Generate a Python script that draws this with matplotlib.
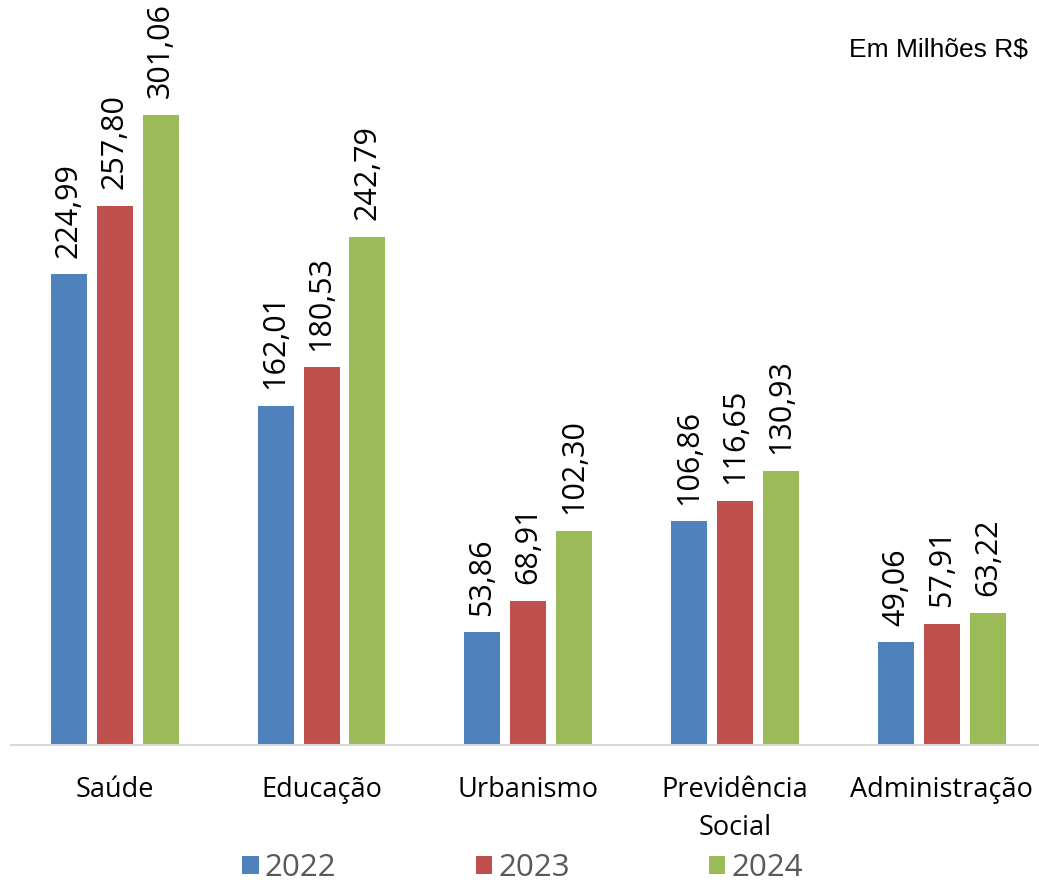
import numpy as np
import matplotlib
matplotlib.use("Agg")
import matplotlib.pyplot as plt

categories = ["Saúde", "Educação", "Urbanismo", "Previdência\nSocial", "Administração"]
years = ["2022", "2023", "2024"]
v2022 = [224.99, 162.01, 53.86, 106.86, 49.06]
v2023 = [257.80, 180.53, 68.91, 116.65, 57.91]
v2024 = [301.06, 242.79, 102.30, 130.93, 63.22]
colors = ["#4F81BD", "#C0504D", "#9BBB59"]

plt.rcParams['font.family'] = ['Open Sans', 'DejaVu Sans']

fig = plt.figure(figsize=(10.39, 8.85), dpi=100)
ax = fig.add_axes([0.011, 0.158, 0.995, 0.842])

x = np.arange(len(categories))
width = 0.174
step = 0.222
series = [v2022, v2023, v2024]
for i, (vals, c, lab) in enumerate(zip(series, colors, years)):
    bars = ax.bar(x + (i - 1) * step, vals, width, color=c, label=lab, zorder=2)
    for b, v in zip(bars, vals):
        ax.annotate(f"{v:.2f}".replace(".", ","), (b.get_x() + b.get_width() / 2, v),
                    xytext=(0, 12), textcoords="offset points",
                    rotation=90, ha="center", va="bottom", fontsize=22, color="black")

ax.set_xlim(-0.5, len(categories) - 0.5)
ax.set_ylim(0, 356)
ax.set_yticks([])
ax.set_xticks(x)
ax.set_xticklabels(categories, fontsize=19.5, linespacing=1.5)
ax.tick_params(axis="x", length=0, pad=22)
for s in ["top", "right", "left"]:
    ax.spines[s].set_visible(False)
ax.spines["bottom"].set_color("#D9D9D9")
ax.spines["bottom"].set_linewidth(1.5)

fig.text(0.989, 0.944, "Em Milhões R$", ha="right", va="center", fontsize=19,
         family=["Liberation Sans", "DejaVu Sans"])

leg = fig.legend(loc="lower center", bbox_to_anchor=(0.503, -0.03), ncol=3, frameon=False,
                 fontsize=22.5, handlelength=0.52, handleheight=0.52, handletextpad=0.2,
                 columnspacing=4.45)
for t in leg.get_texts():
    t.set_color("#595959")

fig.savefig("out.png", dpi=100)
